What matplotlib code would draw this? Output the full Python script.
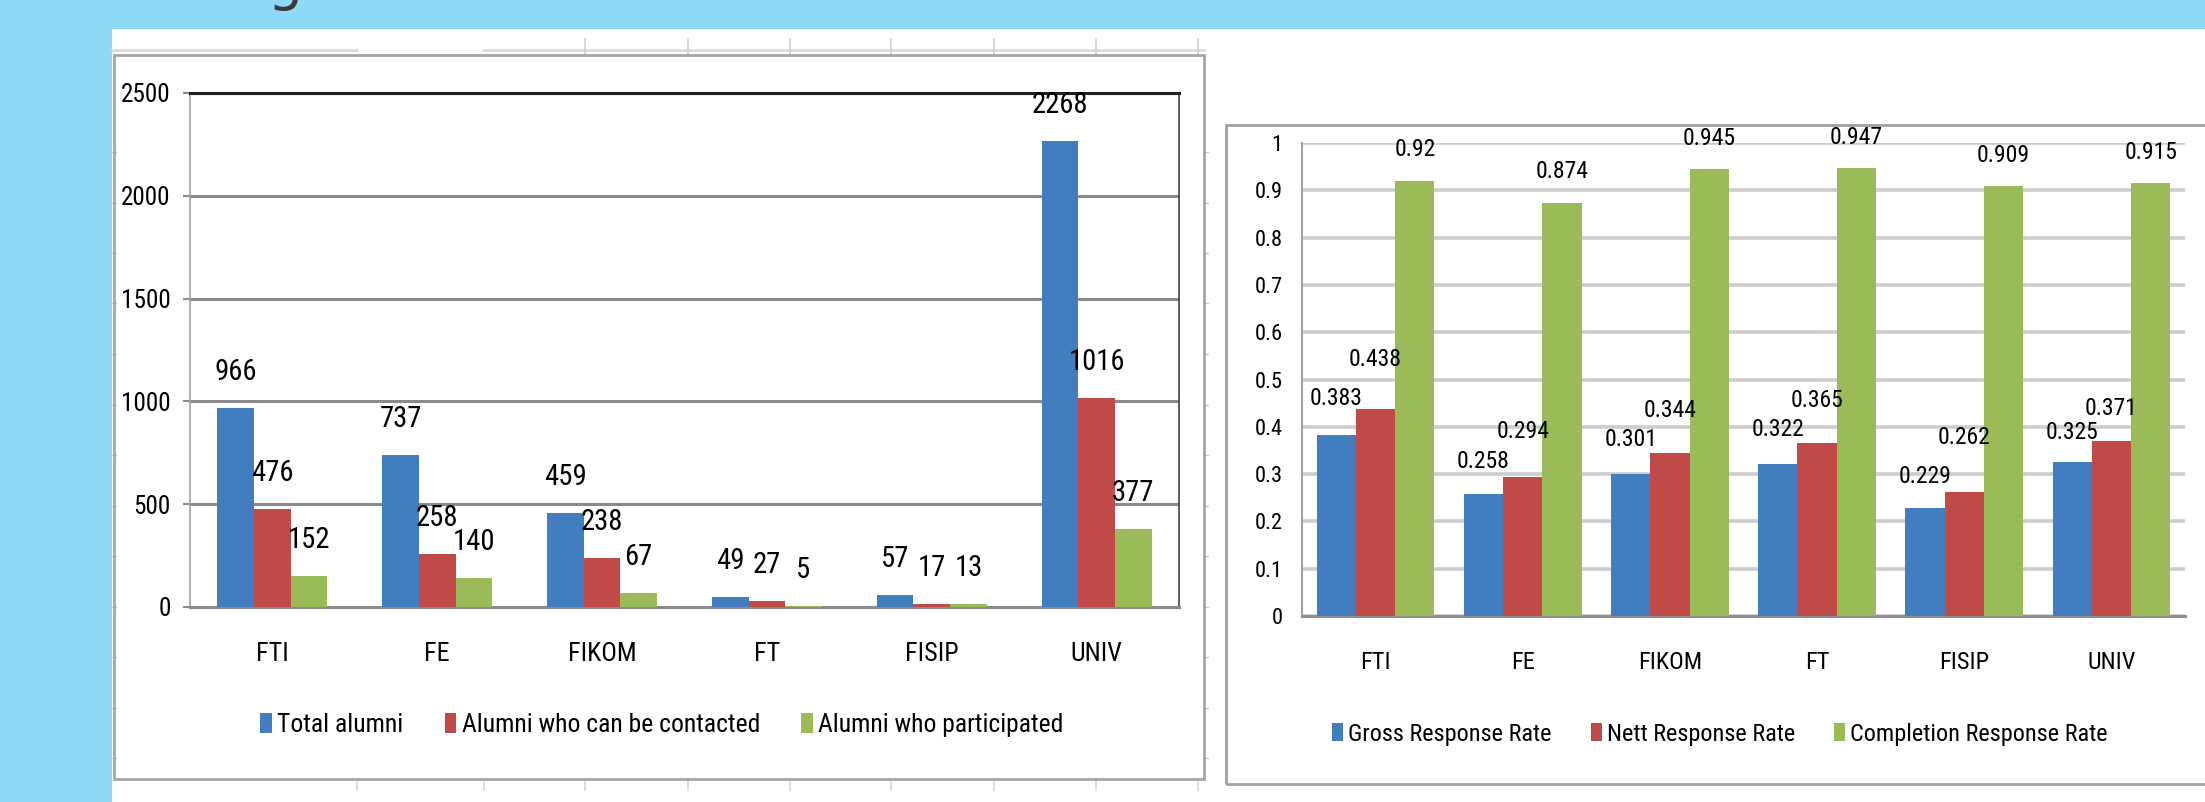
import os
import math
import matplotlib
matplotlib.use('Agg')
import matplotlib.pyplot as plt
from matplotlib.patches import Rectangle, Patch
from matplotlib.lines import Line2D
from matplotlib import font_manager as fm
from matplotlib.font_manager import FontProperties
from matplotlib.textpath import TextPath
import numpy as np

# ---------------- data ----------------
categories = ['FTI', 'FE', 'FIKOM', 'FT', 'FISIP', 'UNIV']

total_alumni = [966, 737, 459, 49, 57, 2268]
alumni_contacted = [476, 258, 238, 27, 17, 1016]
alumni_participated = [152, 140, 67, 5, 13, 377]
left_series_names = ['Total alumni', 'Alumni who can be contacted', 'Alumni who participated']
left_yticks = [0, 500, 1000, 1500, 2000, 2500]

gross_rate = [0.383, 0.258, 0.301, 0.322, 0.229, 0.325]
nett_rate = [0.438, 0.294, 0.344, 0.365, 0.262, 0.371]
completion_rate = [0.92, 0.874, 0.945, 0.947, 0.909, 0.915]
right_series_names = ['Gross Response Rate', 'Nett Response Rate', 'Completion Response Rate']
right_yticks = [0, 0.1, 0.2, 0.3, 0.4, 0.5, 0.6, 0.7, 0.8, 0.9, 1.0]
right_yticklabels = ['0', '0.1', '0.2', '0.3', '0.4', '0.5', '0.6', '0.7', '0.8', '0.9', '1']

# ---------------- font choice (narrow font if available) ----------------
def find_font():
    files = [f.fname for f in fm.fontManager.ttflist]
    prefs = ['liberationsansnarrow-regular', 'robotocondensed-regular', 'robotocondensed[',
             'dejavusanscondensed.', 'opensans_condensed-regular', 'opensanscondensed-regular',
             'notosans-condensed', 'notosanscondensed', 'roboto-regular', 'lato-regular']
    for p in prefs:
        for fn in files:
            if p in os.path.basename(fn).lower():
                return fn
    return None

_fpath = find_font()

def FP(size):
    if _fpath:
        return FontProperties(fname=_fpath, size=size)
    return FontProperties(family='DejaVu Sans', size=size)

def ink(text):
    ext = TextPath((0, 0), text, size=1, prop=FP(1)).get_extents()
    return ext.width * 100 / 72, ext.height * 100 / 72

def fit(text, w_px, h_px, htext=None, a=0.5):
    w1, _ = ink(text)
    _, h1 = ink(htext if htext else text)
    return (w_px / w1) ** a * (h_px / h1) ** (1 - a)

s_left_ytick = fit('2500', 43, 20)
s_left_lab = fit('966', 36, 23)
s_left_xtick = fit('FIKOM', 59, 21)
s_left_leg = fit('Total alumni', 118, 22, 'T', a=0.8)
s_right_ytick = fit('0.9', 23, 18)
s_right_lab = fit('0.322', 46, 19)
s_right_xtick = fit('FIKOM', 54, 20)
s_right_leg = fit('Gross Response Rate', 193, 21, 'G', a=0.8)

# ---------------- style ----------------
colors = ['#427DBF', '#BF4A47', '#9BBB59']
BG = '#8FD9F9'
W, H = 2205, 802

def fx(x):
    return x / W

def fy(y):
    return 1 - y / H

fig = plt.figure(figsize=(W / 100, H / 100), dpi=100, facecolor=BG)

# white slide area
fig.patches.append(Rectangle((fx(112), 0), 1 - fx(112), fy(29), transform=fig.transFigure,
                             facecolor='white', edgecolor='none', zorder=-10))

# cut-off title descender
fig.text(fx(286), 1 + 1 / H, 'g', fontsize=40, family='DejaVu Sans', color='#3a3a3a',
         ha='center', va='baseline', zorder=-5)

# spreadsheet remnants
def fline(xs, ys, color, lw):
    fig.add_artist(Line2D([fx(v) for v in xs], [fy(v) for v in ys], transform=fig.transFigure,
                          color=color, lw=lw, zorder=-5))

fline([112, 357], [50, 50], '#dcdcdc', 2)
fline([484, 1204], [50, 50], '#dcdcdc', 2)
for xv in [585, 688, 790, 891, 994, 1096, 1198]:
    fline([xv, xv], [39, 55], '#d0d0d0', 1.2)
for xv in [357, 484, 585, 688, 790, 891, 994, 1096, 1198]:
    fline([xv, xv], [779, 790], '#d8d8d8', 1.2)
for yv in np.arange(152, 780, 50.5):
    fline([112, 116], [yv, yv], '#c8c8c8', 1)
    fline([1204, 1208], [yv, yv], '#c8c8c8', 1)

# chart frames
fig.patches.append(Rectangle((fx(114), fy(779)), fx(1204) - fx(114), fy(55) - fy(779),
                             transform=fig.transFigure, facecolor='none',
                             edgecolor='#a6a6a6', lw=2, zorder=-4))
fig.patches.append(Rectangle((fx(1226), fy(784)), fx(2215) - fx(1226), fy(125) - fy(784),
                             transform=fig.transFigure, facecolor='none',
                             edgecolor='#a0a0a0', lw=2, zorder=-4))

x = np.arange(len(categories))

# ---------------- left chart ----------------
axL = fig.add_axes([fx(190), fy(607), fx(1179) - fx(190), fy(93) - fy(607)])
axL.set_facecolor('white')
wL = 1 / 4.5
left_data = [total_alumni, alumni_contacted, alumni_participated]
for k, (vals, name) in enumerate(zip(left_data, left_series_names)):
    xs = x + (k - 1) * wL
    axL.bar(xs, vals, width=wL, color=colors[k], label=name, zorder=3)
    for xi, v in zip(xs, vals):
        axL.annotate(str(v), xy=(xi, v), xytext=(0, 36), textcoords='offset pixels',
                     ha='center', va='center', fontproperties=FP(s_left_lab),
                     color='black', zorder=4, annotation_clip=False)
axL.set_xlim(-0.5, len(categories) - 0.5)
axL.set_ylim(0, 2500)
axL.set_yticks(left_yticks)
axL.set_yticklabels([str(t) for t in left_yticks])
axL.set_xticks(x)
axL.set_xticklabels(categories)
for t in axL.get_yticklabels():
    t.set_fontproperties(FP(s_left_ytick))
for t in axL.get_xticklabels():
    t.set_fontproperties(FP(s_left_xtick))
axL.yaxis.grid(True, color='#8a8a8a', lw=2.2, zorder=1)
axL.set_axisbelow(True)
axL.tick_params(axis='y', length=5, width=1.5, color='#8a8a8a', pad=9)
axL.tick_params(axis='x', length=0, pad=25)
axL.spines['top'].set_color('#202020')
axL.spines['top'].set_linewidth(2.2)
axL.spines['right'].set_color('#404040')
axL.spines['right'].set_linewidth(1.2)
axL.spines['left'].set_color('#a0a0a0')
axL.spines['left'].set_linewidth(1.2)
axL.spines['bottom'].set_color('#8a8a8a')
axL.spines['bottom'].set_linewidth(2.2)

hL = [Patch(facecolor=c, edgecolor='none') for c in colors]
fig.legend(hL, left_series_names, loc='center', bbox_to_anchor=(fx(662), fy(725)),
           ncol=3, frameon=False, prop=FP(s_left_leg), handlelength=0.45, handleheight=0.8,
           handletextpad=0.22, columnspacing=1.6, borderpad=0)

# ---------------- right chart ----------------
axR = fig.add_axes([fx(1302), fy(616), fx(2185) - fx(1302), fy(143) - fy(616)])
axR.set_facecolor('white')
wR = 1 / 3.75
right_data = [gross_rate, nett_rate, completion_rate]
lift_px = [[36, 32, 34, 34, 31, 30],
           [49, 45, 43, 43, 55, 32],
           [31, 31, 31, 31, 31, 31]]
ax_px = (fy(143) - fy(616)) * H
for k, (vals, name) in enumerate(zip(right_data, right_series_names)):
    xs = x + (k - 1) * wR
    axR.bar(xs, vals, width=wR, color=colors[k], label=name, zorder=3)
    for i, (xi, v) in enumerate(zip(xs, vals)):
        lift = min(lift_px[k][i], (1.0 - v) * ax_px + 8)
        axR.annotate(str(v), xy=(xi, v), xytext=(0, lift), textcoords='offset pixels',
                     ha='center', va='center', fontproperties=FP(s_right_lab),
                     color='black', zorder=4, annotation_clip=False)
axR.set_xlim(-0.5, len(categories) - 0.5)
axR.set_ylim(0, 1.0)
axR.set_yticks(right_yticks)
axR.set_yticklabels(right_yticklabels)
axR.set_xticks(x)
axR.set_xticklabels(categories)
for t in axR.get_yticklabels():
    t.set_fontproperties(FP(s_right_ytick))
for t in axR.get_xticklabels():
    t.set_fontproperties(FP(s_right_xtick))
axR.yaxis.grid(True, color='#cdcdcd', lw=2.6, zorder=1)
axR.set_axisbelow(True)
axR.tick_params(axis='y', length=0, pad=14)
axR.tick_params(axis='x', length=0, pad=25)
for s in ['top', 'right']:
    axR.spines[s].set_visible(False)
axR.spines['left'].set_color('#a0a0a0')
axR.spines['left'].set_linewidth(1.5)
axR.spines['bottom'].set_color('#909090')
axR.spines['bottom'].set_linewidth(2.2)

hR = [Patch(facecolor=c, edgecolor='none') for c in colors]
fig.legend(hR, right_series_names, loc='center', bbox_to_anchor=(fx(1720), fy(734)),
           ncol=3, frameon=False, prop=FP(s_right_leg), handlelength=0.45, handleheight=0.8,
           handletextpad=0.22, columnspacing=1.6, borderpad=0)

fig.savefig('out.png', dpi=100, facecolor=BG)
